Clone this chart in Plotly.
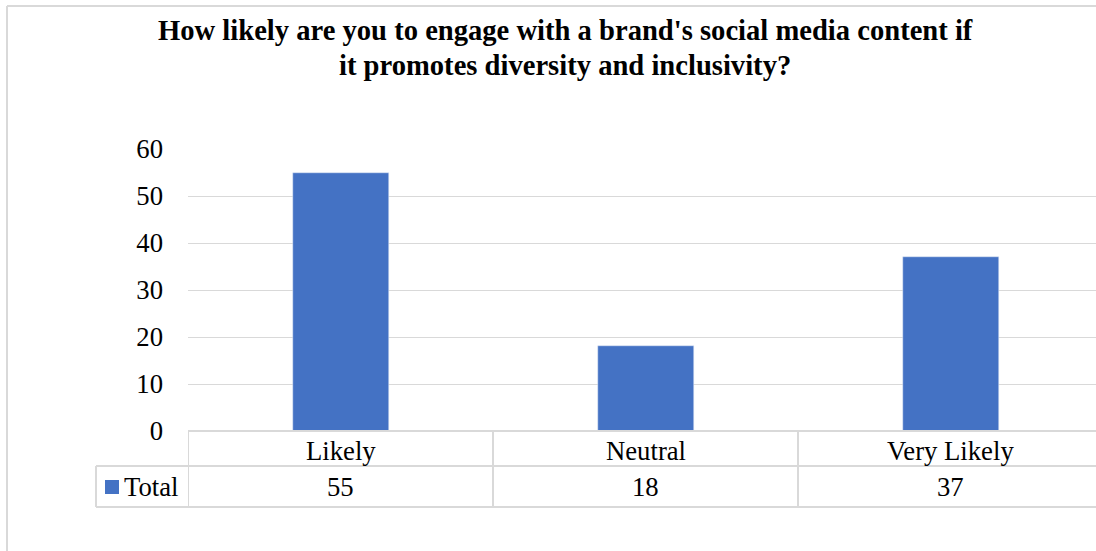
import plotly.graph_objects as go

# Survey responses
categories = ["Likely", "Neutral", "Very Likely"]
totals = [55, 18, 37]
series_name = "Total"
title_lines = ["How likely are you to engage with a brand's social media content if",
               "it promotes diversity and inclusivity?"]

W, H = 1096, 551
L, T, B = 188, 149, 120          # plot area margins in px
plot_w = W - L
plot_h = H - T - B
cat_w = 305                       # px per category
x_max = plot_w / cat_w - 0.5      # plot area runs past the right edge a little

BAR = "#4472C4"
GRID = "#d9d9d9"
FONT = "Liberation Serif, Times New Roman, serif"
BODY = 26.7
TITLE = 28.6


def py(px):
    """pixel y from top of figure -> paper y (relative to plot area)"""
    return (H - B - px) / plot_h


def px_x(px):
    """pixel x from left of figure -> paper x (relative to plot area)"""
    return (px - L) / plot_w


fig = go.Figure()
fig.add_trace(go.Bar(x=list(range(len(categories))), y=totals, name=series_name,
                     marker_color=BAR, width=96 / cat_w, showlegend=False))

shapes = []
line = dict(color=GRID, width=2)
# chart frame (left and top edges)
shapes.append(dict(type="line", xref="paper", yref="paper", x0=px_x(7), x1=px_x(7),
                   y0=py(6), y1=py(H + 5), line=line))
shapes.append(dict(type="line", xref="paper", yref="paper", x0=px_x(7), x1=px_x(W + 5),
                   y0=py(6), y1=py(6), line=line))
# data table rows
for ypx, x0 in [(431, L), (466, 96), (507, 96)]:
    shapes.append(dict(type="line", xref="paper", yref="paper", x0=px_x(x0), x1=px_x(W + 5),
                       y0=py(ypx), y1=py(ypx), line=line))
# data table column separators
shapes.append(dict(type="line", xref="paper", yref="paper", x0=px_x(96), x1=px_x(96),
                   y0=py(466), y1=py(507), line=line))
for i in range(len(categories)):
    shapes.append(dict(type="line", xref="x", yref="paper", x0=i - 0.5, x1=i - 0.5,
                       y0=py(431), y1=py(507), line=line))
# legend key
shapes.append(dict(type="rect", xref="paper", yref="paper", x0=px_x(105), x1=px_x(119),
                   y0=py(494), y1=py(480), fillcolor=BAR, line=dict(width=0)))

annotations = []
for txt, ypx in zip(title_lines, [31, 66]):
    annotations.append(dict(text=f"<b>{txt}</b>", xref="paper", yref="paper", x=px_x(565),
                            y=py(ypx), xanchor="center", yanchor="middle", showarrow=False,
                            font=dict(family=FONT, size=TITLE, color="#000")))
for i, (c, v) in enumerate(zip(categories, totals)):
    annotations.append(dict(text=c, xref="x", yref="paper", x=i, y=py(451),
                            xanchor="center", yanchor="middle", showarrow=False,
                            font=dict(family=FONT, size=BODY, color="#000")))
    annotations.append(dict(text=str(v), xref="x", yref="paper", x=i, y=py(487),
                            xanchor="center", yanchor="middle", showarrow=False,
                            font=dict(family=FONT, size=BODY, color="#000")))
annotations.append(dict(text=series_name, xref="paper", yref="paper", x=px_x(122),
                        y=py(487), xanchor="left", yanchor="middle", showarrow=False,
                        font=dict(family=FONT, size=BODY, color="#000")))

fig.update_layout(
    width=W, height=H,
    margin=dict(l=L, r=0, t=T, b=B, pad=0),
    paper_bgcolor="white", plot_bgcolor="white",
    font=dict(family=FONT, size=BODY, color="#000"),
    bargap=0,
    xaxis=dict(range=[-0.5, x_max], showticklabels=False, showgrid=False,
               zeroline=False, showline=False, ticks="", fixedrange=True),
    yaxis=dict(range=[0, 60], tickvals=[0, 10, 20, 30, 40, 50, 60],
               showgrid=True, gridcolor=GRID, gridwidth=1, zeroline=False,
               showline=False, ticks="", ticklabelstandoff=24,
               tickfont=dict(family=FONT, size=BODY, color="#000")),
    shapes=shapes,
    annotations=annotations,
)

fig.write_html("out.html")
